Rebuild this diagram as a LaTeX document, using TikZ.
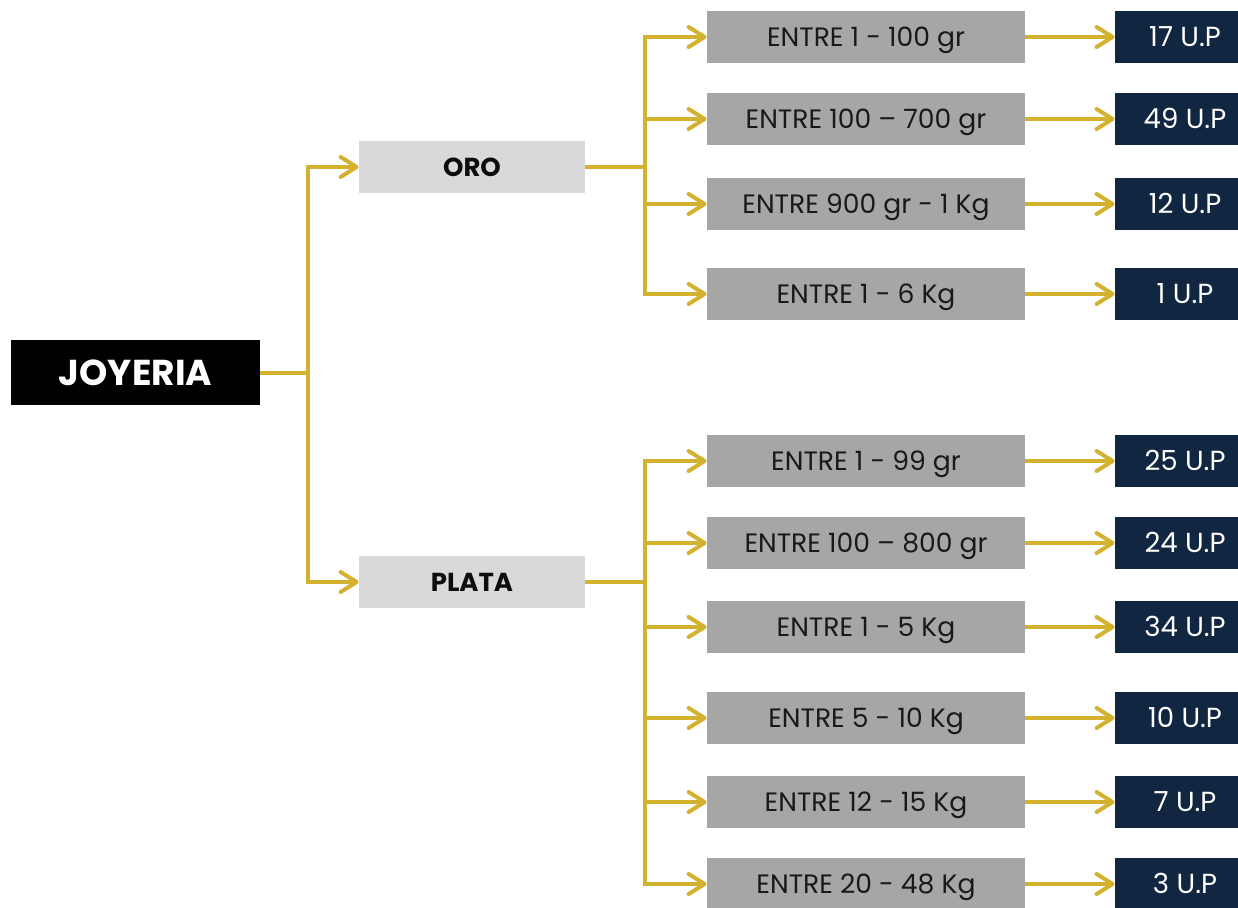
\documentclass[tikz,border=0pt]{standalone}
\usepackage{fontspec}
\setmainfont{Poppins}
\usetikzlibrary{arrows.meta}
\definecolor{gold}{RGB}{213,177,48}
\definecolor{rangebox}{RGB}{166,166,166}
\definecolor{metalbox}{RGB}{217,217,217}
\definecolor{unitbox}{RGB}{17,38,64}

\begin{document}
\begin{tikzpicture}[
    x=0.5pt, y=-0.5pt,
    every node/.style={inner sep=0pt, anchor=center, text depth=0pt},
    rootbox/.style={fill=black, text=white, font=\fontsize{18}{20}\selectfont\bfseries,
                    text height=12.6pt, minimum width=124.5pt, minimum height=32.5pt},
    metal/.style={fill=metalbox, text=black!95, font=\fontsize{13}{15}\selectfont\bfseries,
                  text height=9.1pt, minimum width=113pt, minimum height=26pt},
    wrange/.style={fill=rangebox, text=black!90, font=\fontsize{13.3}{15}\selectfont,
                  text height=9.3pt, minimum width=159pt, minimum height=26pt},
    units/.style={fill=unitbox, text=white, font=\fontsize{13.8}{15}\selectfont,
                  text height=9.7pt, minimum width=70pt, minimum height=26pt},
    link/.style={draw=gold, line width=2pt},
    arrow/.style={link, -{Straight Barb[length=8pt, width=10pt, round]}},
]
\useasboundingbox (0,0) rectangle (1238,907);

% root and the two metals
\node[rootbox] (joy) at (135.5,372.5) {JOYERIA};
\node[metal] (oro) at (472,167) {ORO};
\node[metal] (plata) at (472,582) {PLATA};

\coordinate (jsplit) at (308,372.5);
\coordinate (osplit) at (645,167);
\coordinate (psplit) at (645,582);

% weight ranges (oro)
\node[wrange] (o1) at (866,37) {ENTRE 1 - 100 gr};
\node[wrange] (o2) at (866,119) {ENTRE 100 – 700 gr};
\node[wrange] (o3) at (866,204) {ENTRE 900 gr - 1 Kg};
\node[wrange] (o4) at (866,294) {ENTRE 1 - 6 Kg};

% weight ranges (plata)
\node[wrange] (p1) at (866,461) {ENTRE 1 - 99 gr};
\node[wrange] (p2) at (866,543) {ENTRE 100 – 800 gr};
\node[wrange] (p3) at (866,627) {ENTRE 1 - 5 Kg};
\node[wrange] (p4) at (866,718) {ENTRE 5 - 10 Kg};
\node[wrange] (p5) at (866,802) {ENTRE 12 - 15 Kg};
\node[wrange] (p6) at (866,884) {ENTRE 20 - 48 Kg};

% units per range (boxes run past the right edge)
\node[units] (uo1) at (1185,37) {17 U.P};
\node[units] (uo2) at (1185,119) {49 U.P};
\node[units] (uo3) at (1185,204) {12 U.P};
\node[units] (uo4) at (1185,294) {1 U.P};
\node[units] (up1) at (1185,461) {25 U.P};
\node[units] (up2) at (1185,543) {24 U.P};
\node[units] (up3) at (1185,627) {34 U.P};
\node[units] (up4) at (1185,718) {10 U.P};
\node[units] (up5) at (1185,802) {7 U.P};
\node[units] (up6) at (1185,884) {3 U.P};

% root to metals
\draw[arrow] (joy.east) -- (jsplit) |- (oro.west);
\draw[arrow] (joy.east) -- (jsplit) |- (plata.west);

% metals to ranges
\foreach \r in {o1,o2,o3,o4}
    \draw[arrow] (oro.east) -- (osplit) |- (\r.west);
\foreach \r in {p1,p2,p3,p4,p5,p6}
    \draw[arrow] (plata.east) -- (psplit) |- (\r.west);

% ranges to units
\foreach \r/\u in {o1/uo1,o2/uo2,o3/uo3,o4/uo4,p1/up1,p2/up2,p3/up3,p4/up4,p5/up5,p6/up6}
    \draw[arrow] (\r.east) -- (\u.west);

\end{tikzpicture}
\end{document}
